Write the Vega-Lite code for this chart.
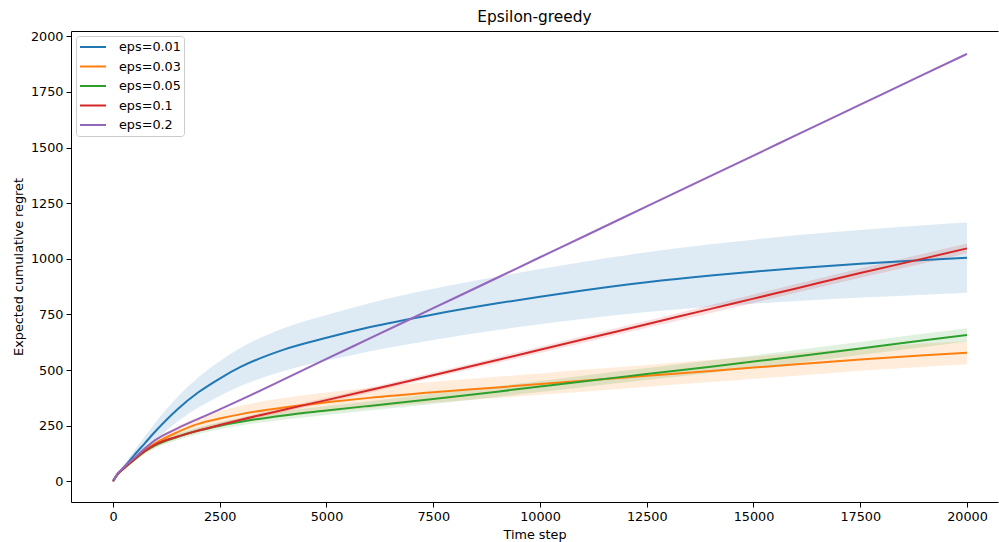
{
  "$schema": "https://vega.github.io/schema/vega-lite/v6.json",
  "width": 927,
  "height": 471,
  "autosize": {"type": "none"},
  "padding": {"left": 71, "top": 31, "right": 1, "bottom": 40},
  "background": "white",
  "title": {"text": "Epsilon-greedy", "fontSize": 15.4, "fontWeight": "normal", "font": "DejaVu Sans", "color": "black", "anchor": "middle", "offset": 5},
  "config": {
    "font": "DejaVu Sans",
    "view": {"stroke": null},
    "axis": {
      "grid": false,
      "domainColor": "black",
      "domainWidth": 1,
      "tickColor": "black",
      "tickSize": 5,
      "labelFontSize": 12.8,
      "labelColor": "black",
      "labelPadding": 3,
      "titleFontSize": 12.8,
      "titleFontWeight": "normal",
      "titleColor": "black"
    },
    "legend": {
      "orient": "top-left",
      "offset": 5,
      "title": null,
      "fillColor": "white",
      "strokeColor": "#cccccc",
      "cornerRadius": 3,
      "padding": 3,
      "symbolType": "stroke",
      "symbolStrokeWidth": 2,
      "symbolSize": 676,
      "labelFontSize": 12.8,
      "labelColor": "black",
      "labelOffset": 12,
      "clipHeight": 16,
      "rowPadding": 3.5
    }
  },
  "datasets": {
    "d": [
      {"eps": "eps=0.01", "t": 0, "mean": 0, "lo": 0, "hi": 0},
      {"eps": "eps=0.01", "t": 100, "mean": 30, "lo": 26, "hi": 34},
      {"eps": "eps=0.01", "t": 250, "mean": 62, "lo": 52, "hi": 72},
      {"eps": "eps=0.01", "t": 500, "mean": 118, "lo": 98, "hi": 138},
      {"eps": "eps=0.01", "t": 750, "mean": 172, "lo": 142, "hi": 202},
      {"eps": "eps=0.01", "t": 1000, "mean": 226, "lo": 186, "hi": 266},
      {"eps": "eps=0.01", "t": 1500, "mean": 322, "lo": 267, "hi": 377},
      {"eps": "eps=0.01", "t": 2000, "mean": 400, "lo": 332, "hi": 468},
      {"eps": "eps=0.01", "t": 2500, "mean": 462, "lo": 384, "hi": 540},
      {"eps": "eps=0.01", "t": 3000, "mean": 515, "lo": 429, "hi": 601},
      {"eps": "eps=0.01", "t": 4000, "mean": 592, "lo": 496, "hi": 688},
      {"eps": "eps=0.01", "t": 5000, "mean": 645, "lo": 543, "hi": 747},
      {"eps": "eps=0.01", "t": 6000, "mean": 692, "lo": 584, "hi": 800},
      {"eps": "eps=0.01", "t": 7500, "mean": 750, "lo": 635, "hi": 865},
      {"eps": "eps=0.01", "t": 9000, "mean": 800, "lo": 680, "hi": 920},
      {"eps": "eps=0.01", "t": 10000, "mean": 830, "lo": 706, "hi": 954},
      {"eps": "eps=0.01", "t": 11000, "mean": 858, "lo": 730, "hi": 986},
      {"eps": "eps=0.01", "t": 12500, "mean": 895, "lo": 761, "hi": 1029},
      {"eps": "eps=0.01", "t": 14000, "mean": 925, "lo": 785, "hi": 1065},
      {"eps": "eps=0.01", "t": 15000, "mean": 942, "lo": 798, "hi": 1086},
      {"eps": "eps=0.01", "t": 16000, "mean": 958, "lo": 810, "hi": 1106},
      {"eps": "eps=0.01", "t": 17500, "mean": 978, "lo": 826, "hi": 1130},
      {"eps": "eps=0.01", "t": 19000, "mean": 995, "lo": 839, "hi": 1151},
      {"eps": "eps=0.01", "t": 20000, "mean": 1005, "lo": 847, "hi": 1163},

      {"eps": "eps=0.03", "t": 0, "mean": 0, "lo": 0, "hi": 0},
      {"eps": "eps=0.03", "t": 100, "mean": 30, "lo": 27, "hi": 33},
      {"eps": "eps=0.03", "t": 250, "mean": 58, "lo": 52, "hi": 64},
      {"eps": "eps=0.03", "t": 500, "mean": 100, "lo": 90, "hi": 110},
      {"eps": "eps=0.03", "t": 750, "mean": 140, "lo": 125, "hi": 155},
      {"eps": "eps=0.03", "t": 1000, "mean": 172, "lo": 152, "hi": 192},
      {"eps": "eps=0.03", "t": 1500, "mean": 220, "lo": 194, "hi": 246},
      {"eps": "eps=0.03", "t": 2000, "mean": 258, "lo": 228, "hi": 288},
      {"eps": "eps=0.03", "t": 2500, "mean": 282, "lo": 248, "hi": 316},
      {"eps": "eps=0.03", "t": 3000, "mean": 302, "lo": 264, "hi": 340},
      {"eps": "eps=0.03", "t": 4000, "mean": 332, "lo": 290, "hi": 374},
      {"eps": "eps=0.03", "t": 5000, "mean": 355, "lo": 311, "hi": 399},
      {"eps": "eps=0.03", "t": 6000, "mean": 375, "lo": 329, "hi": 421},
      {"eps": "eps=0.03", "t": 7500, "mean": 400, "lo": 353, "hi": 447},
      {"eps": "eps=0.03", "t": 9000, "mean": 422, "lo": 374, "hi": 470},
      {"eps": "eps=0.03", "t": 10000, "mean": 437, "lo": 389, "hi": 485},
      {"eps": "eps=0.03", "t": 11000, "mean": 452, "lo": 403, "hi": 501},
      {"eps": "eps=0.03", "t": 12500, "mean": 474, "lo": 425, "hi": 523},
      {"eps": "eps=0.03", "t": 14000, "mean": 496, "lo": 446, "hi": 546},
      {"eps": "eps=0.03", "t": 15000, "mean": 511, "lo": 461, "hi": 561},
      {"eps": "eps=0.03", "t": 16000, "mean": 526, "lo": 475, "hi": 577},
      {"eps": "eps=0.03", "t": 17500, "mean": 548, "lo": 497, "hi": 599},
      {"eps": "eps=0.03", "t": 19000, "mean": 567, "lo": 515, "hi": 619},
      {"eps": "eps=0.03", "t": 20000, "mean": 578, "lo": 526, "hi": 630},

      {"eps": "eps=0.05", "t": 0, "mean": 0, "lo": 0, "hi": 0},
      {"eps": "eps=0.05", "t": 100, "mean": 30, "lo": 28, "hi": 32},
      {"eps": "eps=0.05", "t": 250, "mean": 57, "lo": 53, "hi": 61},
      {"eps": "eps=0.05", "t": 500, "mean": 97, "lo": 90, "hi": 104},
      {"eps": "eps=0.05", "t": 750, "mean": 135, "lo": 125, "hi": 145},
      {"eps": "eps=0.05", "t": 1000, "mean": 163, "lo": 151, "hi": 175},
      {"eps": "eps=0.05", "t": 1500, "mean": 199, "lo": 185, "hi": 213},
      {"eps": "eps=0.05", "t": 2000, "mean": 228, "lo": 213, "hi": 243},
      {"eps": "eps=0.05", "t": 2500, "mean": 250, "lo": 234, "hi": 266},
      {"eps": "eps=0.05", "t": 3000, "mean": 268, "lo": 251, "hi": 285},
      {"eps": "eps=0.05", "t": 4000, "mean": 296, "lo": 277, "hi": 315},
      {"eps": "eps=0.05", "t": 5000, "mean": 318, "lo": 298, "hi": 338},
      {"eps": "eps=0.05", "t": 6000, "mean": 339, "lo": 318, "hi": 360},
      {"eps": "eps=0.05", "t": 7500, "mean": 370, "lo": 347, "hi": 393},
      {"eps": "eps=0.05", "t": 9000, "mean": 403, "lo": 379, "hi": 427},
      {"eps": "eps=0.05", "t": 10000, "mean": 426, "lo": 401, "hi": 451},
      {"eps": "eps=0.05", "t": 11000, "mean": 449, "lo": 423, "hi": 475},
      {"eps": "eps=0.05", "t": 12500, "mean": 482, "lo": 455, "hi": 509},
      {"eps": "eps=0.05", "t": 14000, "mean": 515, "lo": 487, "hi": 543},
      {"eps": "eps=0.05", "t": 15000, "mean": 538, "lo": 510, "hi": 566},
      {"eps": "eps=0.05", "t": 16000, "mean": 561, "lo": 532, "hi": 590},
      {"eps": "eps=0.05", "t": 17500, "mean": 597, "lo": 568, "hi": 626},
      {"eps": "eps=0.05", "t": 19000, "mean": 634, "lo": 604, "hi": 664},
      {"eps": "eps=0.05", "t": 20000, "mean": 658, "lo": 628, "hi": 688},

      {"eps": "eps=0.1", "t": 0, "mean": 0, "lo": 0, "hi": 0},
      {"eps": "eps=0.1", "t": 100, "mean": 30, "lo": 28, "hi": 32},
      {"eps": "eps=0.1", "t": 250, "mean": 58, "lo": 55, "hi": 61},
      {"eps": "eps=0.1", "t": 500, "mean": 98, "lo": 94, "hi": 102},
      {"eps": "eps=0.1", "t": 750, "mean": 136, "lo": 131, "hi": 141},
      {"eps": "eps=0.1", "t": 1000, "mean": 166, "lo": 160, "hi": 172},
      {"eps": "eps=0.1", "t": 1500, "mean": 200, "lo": 193, "hi": 207},
      {"eps": "eps=0.1", "t": 2000, "mean": 228, "lo": 220, "hi": 236},
      {"eps": "eps=0.1", "t": 2500, "mean": 253, "lo": 244, "hi": 262},
      {"eps": "eps=0.1", "t": 3000, "mean": 277, "lo": 268, "hi": 286},
      {"eps": "eps=0.1", "t": 4000, "mean": 322, "lo": 312, "hi": 332},
      {"eps": "eps=0.1", "t": 5000, "mean": 365, "lo": 354, "hi": 376},
      {"eps": "eps=0.1", "t": 6000, "mean": 409, "lo": 398, "hi": 420},
      {"eps": "eps=0.1", "t": 7500, "mean": 477, "lo": 465, "hi": 489},
      {"eps": "eps=0.1", "t": 9000, "mean": 545, "lo": 532, "hi": 558},
      {"eps": "eps=0.1", "t": 10000, "mean": 591, "lo": 577, "hi": 605},
      {"eps": "eps=0.1", "t": 11000, "mean": 637, "lo": 622, "hi": 652},
      {"eps": "eps=0.1", "t": 12500, "mean": 706, "lo": 690, "hi": 722},
      {"eps": "eps=0.1", "t": 14000, "mean": 775, "lo": 757, "hi": 793},
      {"eps": "eps=0.1", "t": 15000, "mean": 821, "lo": 802, "hi": 840},
      {"eps": "eps=0.1", "t": 16000, "mean": 867, "lo": 847, "hi": 887},
      {"eps": "eps=0.1", "t": 17500, "mean": 936, "lo": 915, "hi": 957},
      {"eps": "eps=0.1", "t": 19000, "mean": 1002, "lo": 980, "hi": 1024},
      {"eps": "eps=0.1", "t": 20000, "mean": 1047, "lo": 1025, "hi": 1069},

      {"eps": "eps=0.2", "t": 0, "mean": 0, "lo": 0, "hi": 0},
      {"eps": "eps=0.2", "t": 100, "mean": 32, "lo": 30, "hi": 34},
      {"eps": "eps=0.2", "t": 250, "mean": 62, "lo": 60, "hi": 64},
      {"eps": "eps=0.2", "t": 500, "mean": 105, "lo": 102, "hi": 108},
      {"eps": "eps=0.2", "t": 750, "mean": 148, "lo": 145, "hi": 151},
      {"eps": "eps=0.2", "t": 1000, "mean": 186, "lo": 183, "hi": 189},
      {"eps": "eps=0.2", "t": 1500, "mean": 237, "lo": 234, "hi": 240},
      {"eps": "eps=0.2", "t": 2000, "mean": 281, "lo": 277, "hi": 285},
      {"eps": "eps=0.2", "t": 2500, "mean": 323, "lo": 319, "hi": 327},
      {"eps": "eps=0.2", "t": 3000, "mean": 367, "lo": 363, "hi": 371},
      {"eps": "eps=0.2", "t": 4000, "mean": 458, "lo": 454, "hi": 462},
      {"eps": "eps=0.2", "t": 5000, "mean": 550, "lo": 545, "hi": 555},
      {"eps": "eps=0.2", "t": 6000, "mean": 641, "lo": 636, "hi": 646},
      {"eps": "eps=0.2", "t": 7500, "mean": 778, "lo": 773, "hi": 783},
      {"eps": "eps=0.2", "t": 9000, "mean": 915, "lo": 910, "hi": 920},
      {"eps": "eps=0.2", "t": 10000, "mean": 1007, "lo": 1002, "hi": 1012},
      {"eps": "eps=0.2", "t": 11000, "mean": 1098, "lo": 1093, "hi": 1103},
      {"eps": "eps=0.2", "t": 12500, "mean": 1236, "lo": 1231, "hi": 1241},
      {"eps": "eps=0.2", "t": 14000, "mean": 1373, "lo": 1368, "hi": 1378},
      {"eps": "eps=0.2", "t": 15000, "mean": 1464, "lo": 1459, "hi": 1469},
      {"eps": "eps=0.2", "t": 16000, "mean": 1556, "lo": 1551, "hi": 1561},
      {"eps": "eps=0.2", "t": 17500, "mean": 1693, "lo": 1688, "hi": 1698},
      {"eps": "eps=0.2", "t": 19000, "mean": 1830, "lo": 1825, "hi": 1835},
      {"eps": "eps=0.2", "t": 20000, "mean": 1921, "lo": 1916, "hi": 1926}
    ]
  },
  "data": {"name": "d"},
  "layer": [
    {
      "mark": {"type": "area", "opacity": 0.15, "interpolate": "monotone"},
      "encoding": {
        "x": {"field": "t", "type": "quantitative", "scale": {"domain": [-983, 20726], "nice": false, "zero": false}, "axis": null},
        "y": {"field": "lo", "type": "quantitative", "scale": {"domain": [-93, 2024], "nice": false, "zero": false}, "title": "Expected cumulative regret", "axis": {"values": [0, 250, 500, 750, 1000, 1250, 1500, 1750, 2000], "format": "d", "titlePadding": 5}},
        "y2": {"field": "hi"},
        "color": {"field": "eps", "type": "nominal", "legend": null, "scale": {"domain": ["eps=0.01", "eps=0.03", "eps=0.05", "eps=0.1", "eps=0.2"], "range": ["#1f77b4", "#ff7f0e", "#2ca02c", "#d62728", "#9467bd"]}}
      }
    },
    {
      "mark": {"type": "line", "strokeWidth": 2, "interpolate": "monotone"},
      "encoding": {
        "x": {"field": "t", "type": "quantitative", "scale": {"domain": [-983, 20726], "nice": false, "zero": false}, "title": "Time step", "axis": {"values": [0, 2500, 5000, 7500, 10000, 12500, 15000, 17500, 20000], "format": "d", "titlePadding": 6}},
        "y": {"field": "mean", "type": "quantitative", "title": "Expected cumulative regret"},
        "color": {"field": "eps", "type": "nominal", "legend": {"orient": "top-left"}}
      }
    },
    {
      "mark": {"type": "line", "opacity": 0},
      "encoding": {
        "x": {"field": "t", "type": "quantitative", "axis": {"orient": "top", "labels": false, "ticks": false, "title": null, "domain": true}},
        "y": {"field": "mean", "type": "quantitative", "title": "Expected cumulative regret"},
        "detail": {"field": "eps"}
      }
    }
  ],
  "resolve": {"axis": {"x": "independent"}, "legend": {"color": "independent"}}
}
